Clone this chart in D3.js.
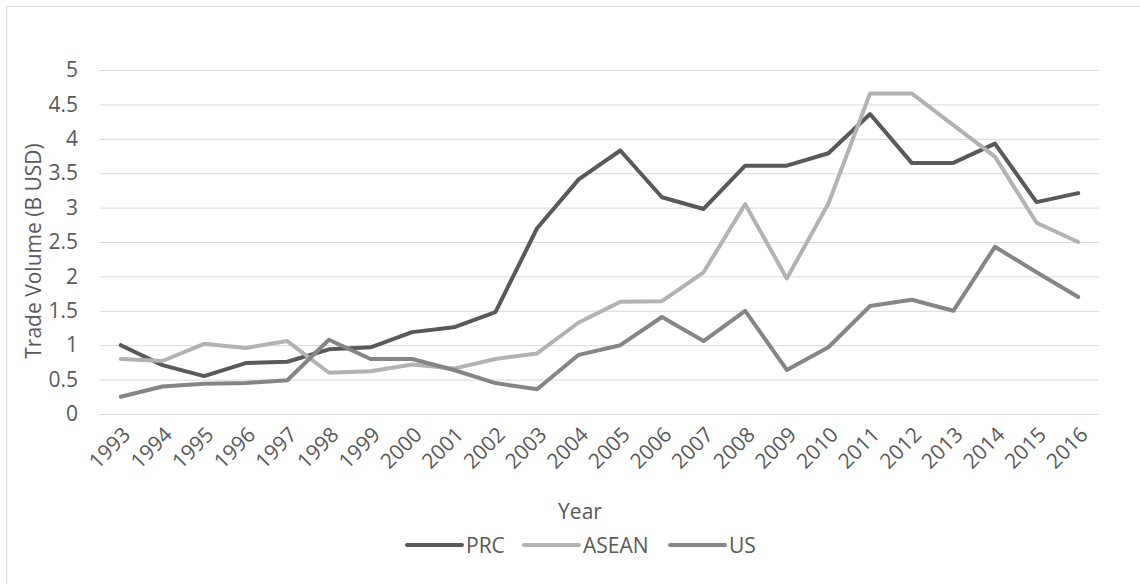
<!DOCTYPE html>
<html>
<head>
<meta charset="utf-8">
<script src="https://cdn.jsdelivr.net/npm/d3@7"></script>
<style>
  html, body { margin: 0; padding: 0; background: #fff; }
  svg { display: block; font-family: "Open Sans", sans-serif; }
</style>
</head>
<body>
<svg id="chart" width="1140" height="584"></svg>
<script>
// Annual trade volume, billions of USD
const years = ["1993","1994","1995","1996","1997","1998","1999","2000","2001","2002","2003","2004",
               "2005","2006","2007","2008","2009","2010","2011","2012","2013","2014","2015","2016"];
const prc   = [1.00,0.71,0.55,0.74,0.76,0.94,0.97,1.19,1.26,1.48,2.70,3.41,3.83,3.15,2.98,3.61,3.61,3.79,4.36,3.65,3.65,3.93,3.08,3.21];
const asean = [0.80,0.77,1.02,0.96,1.06,0.60,0.62,0.72,0.66,0.80,0.88,1.33,1.63,1.64,2.06,3.05,1.97,3.06,4.66,4.66,4.20,3.74,2.78,2.50];
const us    = [0.25,0.40,0.44,0.45,0.49,1.08,0.80,0.80,0.64,0.45,0.36,0.86,1.00,1.41,1.06,1.50,0.64,0.97,1.57,1.66,1.50,2.43,2.06,1.70];
const yTicks = [0,0.5,1,1.5,2,2.5,3,3.5,4,4.5,5];

const seriesNames  = ["PRC","ASEAN","US"];
const seriesValues = [prc, asean, us];
const colors = ["#595959","#b2b2b2","#858585"];

const svg = d3.select("#chart");
const textColor = "#595959";
const fontSize = 21;

// chart frame
svg.append("rect")
  .attr("x", 6.5).attr("y", 6.5)
  .attr("width", 1200).attr("height", 700)
  .attr("fill", "none").attr("stroke", "#d9d9d9").attr("stroke-width", 1);

const plot = {left: 100, right: 1099, top: 70, bottom: 414};

const x = d3.scaleBand().domain(years).range([plot.left, plot.right]);
const y = d3.scaleLinear().domain([0, 5]).range([plot.bottom, plot.top]);

// gridlines + y tick labels
const yAxis = d3.axisLeft(y).tickValues(yTicks).tickSize(-(plot.right - plot.left)).tickPadding(22)
  .tickFormat(d => String(d));
const gy = svg.append("g").attr("transform", `translate(${plot.left},0)`).call(yAxis);
gy.select(".domain").remove();
gy.selectAll(".tick line").attr("stroke", "#d9d9d9").attr("stroke-width", 1);
gy.selectAll(".tick text").attr("fill", textColor).attr("font-size", fontSize)
  .attr("font-family", "'Open Sans', sans-serif");

// x tick labels rotated
const xAxis = d3.axisBottom(x).tickSize(0).tickPadding(0);
const gx = svg.append("g").attr("transform", `translate(0,${plot.bottom})`).call(xAxis);
gx.select(".domain").remove();
gx.selectAll(".tick text")
  .attr("fill", textColor).attr("font-size", fontSize)
  .attr("font-family", "'Open Sans', sans-serif")
  .attr("text-anchor", "end")
  .attr("dy", null).attr("y", 0)
  .attr("transform", "translate(7,18) rotate(-45)")
  .attr("dominant-baseline", "middle");

// series lines
const line = d3.line().x((d, i) => x(years[i]) + x.bandwidth() / 2).y(d => y(d));
seriesValues.forEach((vals, k) => {
  svg.append("path")
    .datum(vals)
    .attr("d", line)
    .attr("fill", "none")
    .attr("stroke", colors[k])
    .attr("stroke-width", 4)
    .attr("stroke-linejoin", "round")
    .attr("stroke-linecap", "round");
});

// axis titles
svg.append("text")
  .attr("transform", "translate(41,251) rotate(-90)")
  .attr("text-anchor", "middle")
  .attr("fill", textColor).attr("font-size", fontSize)
  .text("Trade Volume (B USD)");

svg.append("text")
  .attr("x", 580).attr("y", 519)
  .attr("text-anchor", "middle")
  .attr("fill", textColor).attr("font-size", fontSize)
  .text("Year");

// legend
const legendX = [407, 524, 670];
seriesNames.forEach((name, k) => {
  const g = svg.append("g").attr("transform", `translate(${legendX[k]},545)`);
  g.append("line").attr("x1", 0).attr("x2", 55).attr("y1", 0).attr("y2", 0)
    .attr("stroke", colors[k]).attr("stroke-width", 4).attr("stroke-linecap", "round");
  g.append("text").attr("x", 59).attr("y", 7.5)
    .attr("fill", textColor).attr("font-size", fontSize).text(name);
});
</script>
</body>
</html>
